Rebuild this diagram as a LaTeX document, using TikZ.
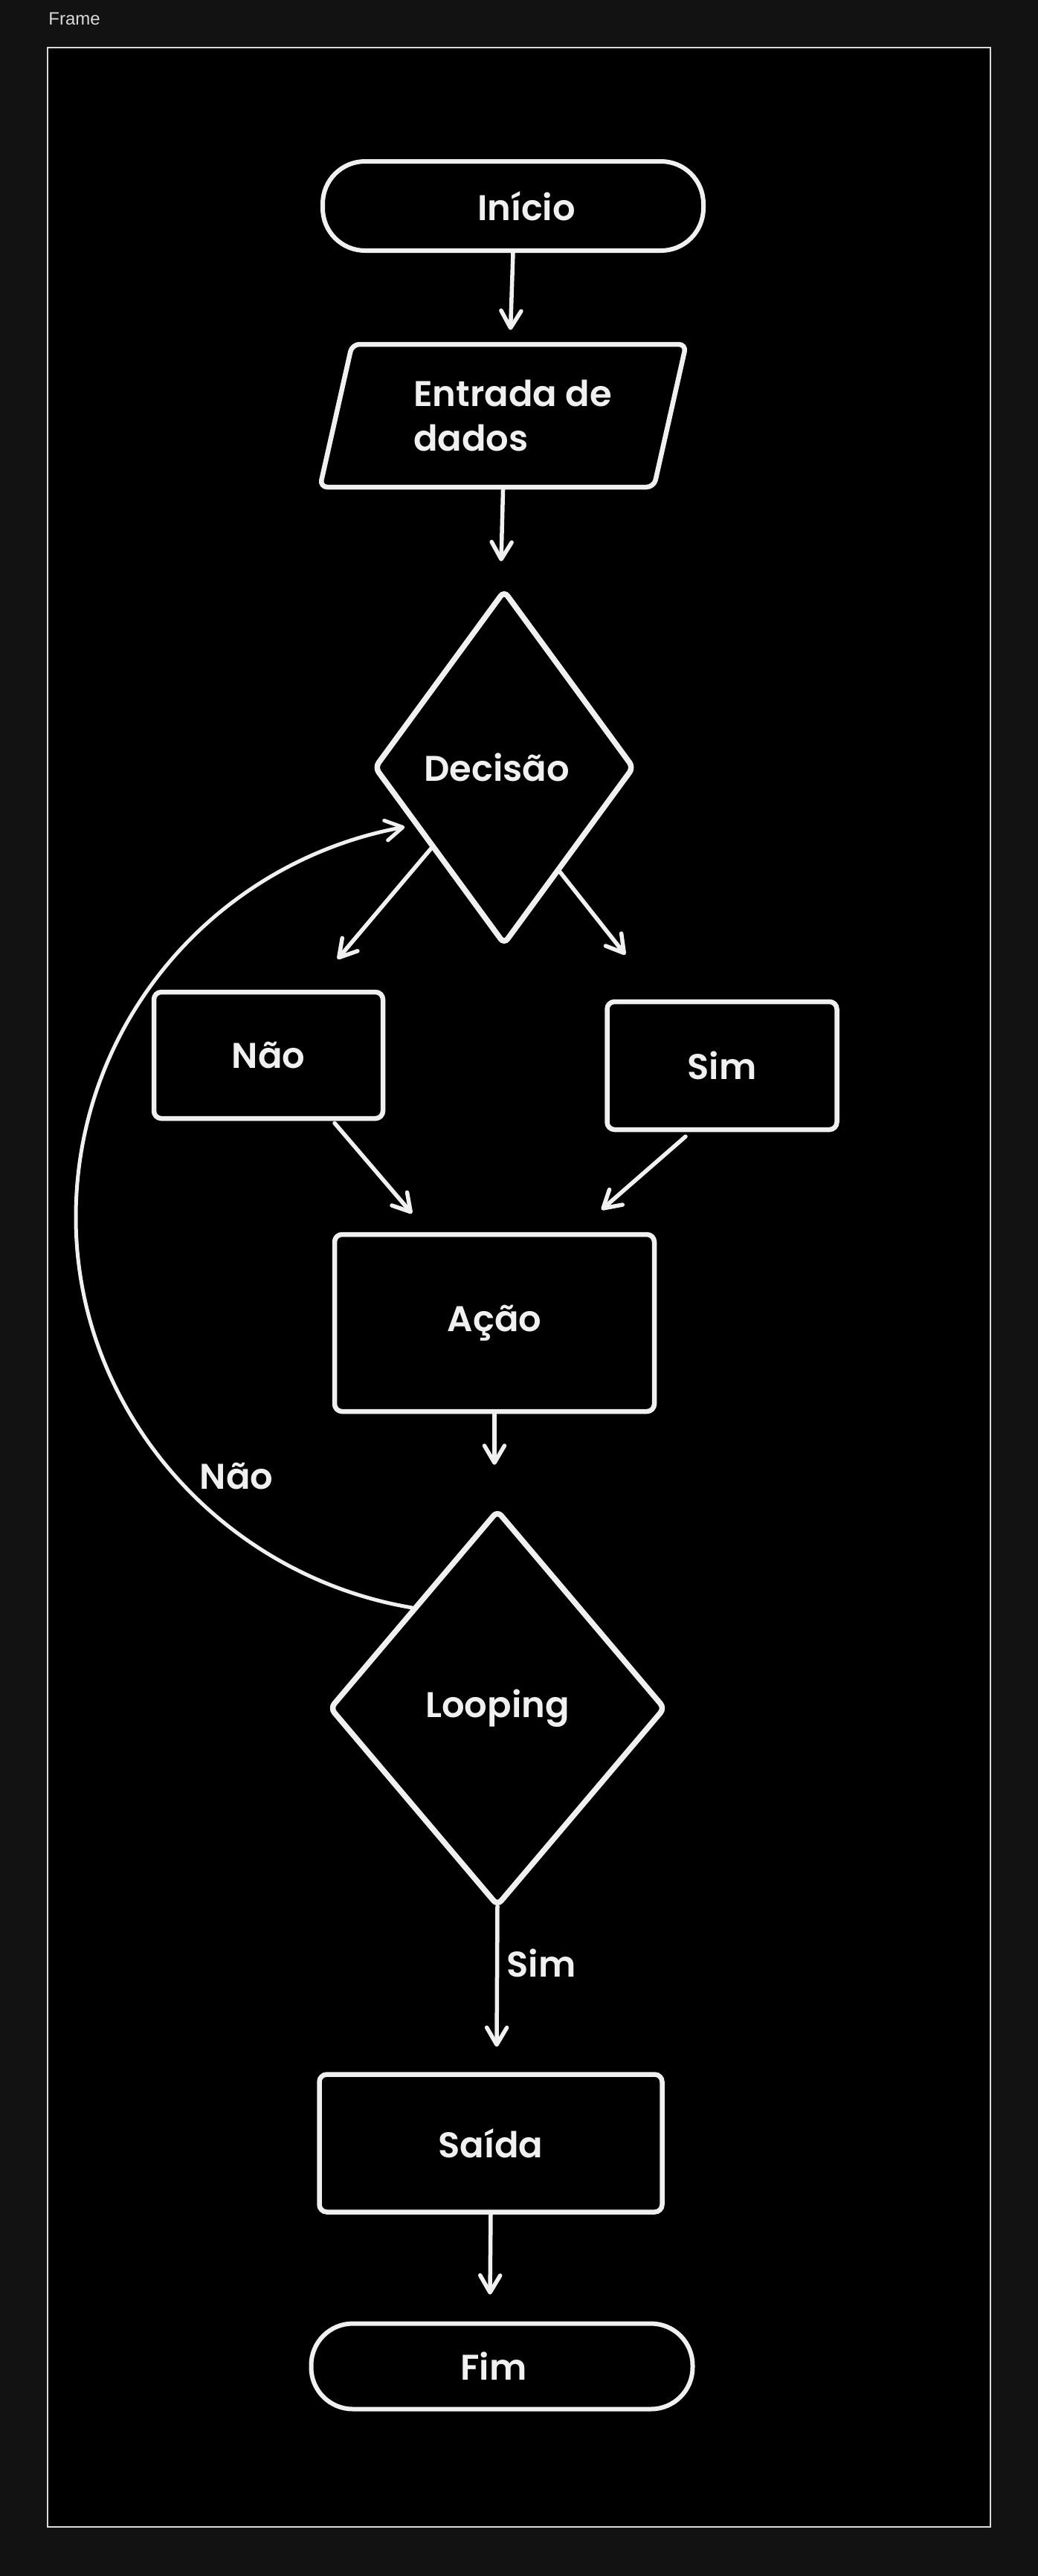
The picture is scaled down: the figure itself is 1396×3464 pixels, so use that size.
\documentclass[tikz,border=0pt]{standalone}
\usepackage{fontspec}
\setmainfont{Poppins}[UprightFont={* SemiBold}]
\newfontfamily\framefont{Liberation Sans}
\usetikzlibrary{arrows.meta,shapes.geometric,calc}
\definecolor{outerbg}{HTML}{121212}
\definecolor{ink}{HTML}{F0F0F0}
\definecolor{framec}{HTML}{DADADA}
\begin{document}
\begin{tikzpicture}[x=0.5pt,y=-0.5pt,
  every node/.style={font=\fontsize{24}{30}\selectfont, text=ink},
  shapebox/.style={draw=ink, line width=3.25pt, rectangle, rounded corners=5pt, inner sep=0pt},
  terminal/.style={draw=ink, line width=3pt, rectangle, rounded corners=28.5pt, inner sep=0pt},
  decision/.style={draw=ink, line width=3.75pt, diamond, rounded corners=4pt, inner sep=0pt},
  io/.style={draw=ink, line width=3.25pt, trapezium, trapezium left angle=72, trapezium right angle=108, trapezium stretches=true, rounded corners=5pt, inner sep=0pt, align=left},
  arr/.style={draw=ink, line width=2.75pt, line cap=round, -{Straight Barb[length=11.5pt,width=13.5pt,round]}},
  curvearr/.style={draw=ink, line width=2.5pt, line cap=round, -{Straight Barb[length=11.5pt,width=13.5pt,round]}},
  lbl/.style={inner sep=0pt}
]
\useasboundingbox (0,0) rectangle (1396,3464);
\fill[outerbg] (0,0) rectangle (1396,3464);
\draw[framec, line width=1pt, fill=black] (64,64) rectangle (1332,3398);
\node[anchor=base west, inner sep=0pt, font=\framefont\fontsize{12}{14}\selectfont, text=framec] (framelabel) at (65,33) {Frame};

% nodes
\node[terminal, minimum width=256pt, minimum height=60pt] (inicio) at (690,277) {\hspace*{18pt}Início};
\node[io, minimum width=246.5pt, minimum height=96pt] (entrada) at (676.5,559) {\hspace*{13pt}Entrada de\\\hspace*{13pt}dados};
\node[decision, minimum width=175pt, minimum height=238.5pt] (decisao) at (678,1032) {Decisão\hspace*{10pt}};
\node[shapebox, minimum width=154pt, minimum height=85pt] (nao) at (361,1419) {Não};
\node[shapebox, minimum width=154.5pt, minimum height=86pt] (sim) at (971,1433) {Sim};
\node[shapebox, minimum width=215pt, minimum height=119pt] (acao) at (665,1779) {Ação};
\node[decision, minimum width=226pt, minimum height=266.5pt] (looping) at (669,2297) {Looping};
\node[shapebox, minimum width=230.5pt, minimum height=92.5pt] (saida) at (660,2882) {Saída};
\node[terminal, minimum width=256.5pt, minimum height=57.5pt, rounded corners=28pt] (fim) at (675,3182) {Fim\hspace*{11pt}};

% labels
\node[lbl] (labnao) at (318,1985) {Não};
\node[lbl] (labsim) at (728,2640) {Sim};

% connectors
\draw[arr] (inicio.south) -- ($(entrada.north)+(10,-16)$);
\draw[arr] (entrada.south) -- ($(decisao.north)+(-4,-35)$);
\draw[arr] ($(decisao.west)!0.45!(decisao.south)$) -- ($(nao.north)+(93,-41)$);
\draw[arr] ($(decisao.south)!0.42!(decisao.east)$) -- ($(sim.north)+(-130,-60)$);
\draw[arr] ($(nao.south)+(89,3)$) -- ($(acao.north)+(-111,-25)$);
\draw[arr] ($(sim.south)+(-49,6)$) -- ($(acao.north)+(144,-30)$);
\draw[arr] (acao.south) -- ($(looping.north)+(-4,-57)$);
\draw[arr] ($(looping.south)+(0,-4)$) -- ($(saida.north)+(8,-34)$);
\draw[arr] (saida.south) -- ($(fim.north)+(-16,-36)$);

\coordinate (lpA) at ($(looping.west)!0.5!(looping.north)$);
\coordinate (arcL) at (102,1637);
\coordinate (dcA) at ($(decisao.west)!0.33!(decisao.south)+(-14,0)$);
\draw[curvearr] (lpA) .. controls +(-256,-43) and +(0,260) .. (arcL)
  .. controls +(0,-260) and +(-256,48) .. (dcA);
\end{tikzpicture}
\end{document}
